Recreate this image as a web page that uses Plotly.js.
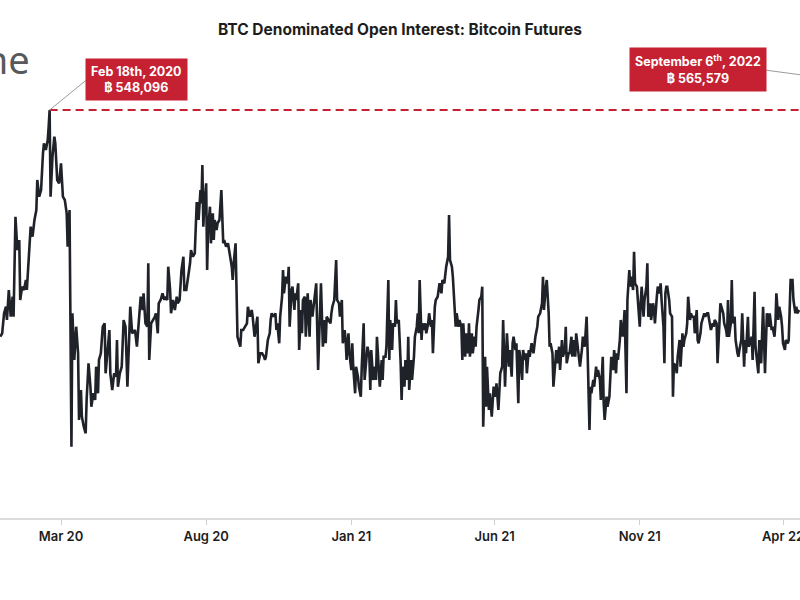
<!DOCTYPE html>
<html>
<head>
<meta charset="utf-8">
<script src="https://cdn.plot.ly/plotly-3.0.1.min.js"></script>
<style>
html,body{margin:0;padding:0;background:#ffffff;}
#chart{width:800px;height:600px;}
</style>
</head>
<body>
<div id="chart"></div>
<script>
// ---- DATA ----
// days counted from 2020-03-01
const baseDateUTC = Date.UTC(2020, 2, 1);
const dayOffsets = [
-64,-62,-60,-58,-57,-55,-53,-51,-50,-48,-46,-44,-43,-41,-39,-37,-36,-33,-32,-30,-28,-26,-25,-23,-21,-19,-18,-16,-14,-13,-12,-11,-9,-7,-6,-4,-2,0,1,2,4,6,7,9,11,12,14,16,18,19,21,22,24,26,27,29,31,32,34,36,37,39,40,42,44,46,47,49,51,52,54,56,58,59,60,62,64,66,68,70,72,73,75,
78,80,82,84,86,87,89,91,92,93,95,97,99,100,102,103,105,107,109,110,112,113,115,116,118,120,122,123,125,127,129,130,132,134,136,137,139,141,143,144,145,147,148,149,150,151,153,154,155,157,158,160,161,162,164,165,167,169,171,172,174,176,178,180,181,182,184,186,188,189,190,192,194,196,197,199,201,202,204,206,207,208,210,212,214,215,
216,218,220,221,222,224,226,227,228,230,231,233,234,235,237,239,240,241,243,244,246,247,248,250,251,253,254,255,257,258,260,262,263,265,267,269,271,272,274,276,278,279,280,282,284,285,286,288,290,291,293,294,296,297,299,300,301,303,304,306,307,308,310,311,313,314,316,317,319,320,321,323,325,326,327,329,331,332,333,335,336,338,339,340,342,343,345,346,347,349,350,352,353,354,356,
358,359,360,362,363,365,366,367,369,370,372,373,375,376,377,378,380,381,383,384,385,387,388,390,391,392,394,395,397,398,399,401,402,404,405,406,408,409,410,412,413,415,416,417,419,420,422,423,424,426,427,429,430,431,433,434,436,437,438,440,441,443,444,445,447,448,449,451,452,454,455,456,458,459,461,462,463,465,466,468,469,470,472,473,475,476,477,479,480,482,483,484,486,487,489,490,491,493,494,496,
498,500,502,503,505,507,508,509,511,512,514,515,516,518,519,521,522,523,525,526,528,529,531,532,533,535,536,538,539,540,542,543,545,546,547,549,550,552,553,554,555,557,558,559,561,562,564,565,566,568,569,571,572,573,575,576,578,579,580,582,583,585,586,587,589,590,592,593,594,596,597,599,600,601,603,604,605,607,608,610,611,612,614,615,617,618,619,621,622,624,625,626,628,629,631,632,633,635,636,
637,638,639,641,642,644,645,646,648,649,650,652,653,655,656,657,659,660,661,663,664,665,667,668,670,671,672,674,675,677,678,679,681,682,684,685,687,688,689,691,692,694,695,696,698,699,701,702,703,704,706,707,708,710,711,713,714,715,717,718,720,721,722,724,725,727,728,729,731,732,734,735,736,738,739,740,742,743,744,746,747,749,750,752,753,754,756,757,759,760,761,763,764,766,767,768,769,771,772,774,775,776,778
];
// open interest, thousand BTC
const openInterestKBTC = [
321.4,324.8,344.8,351.4,338.1,368.1,341.4,361.4,341.4,441.4,408.1,418.1,358.1,371.4,368.1,378.1,368.1,424.8,431.4,421.4,438.1,448.1,478.1,461.4,468.1,504.8,514.8,508.1,518.1,531.4,548.096,461.4,501.4,521.4,514.8,478.1,474.8,494.8,474.8,461.4,458.1,444.8,411.4,448.1,211.4,344.8,298.1,331.4,304.8,238.1,268.1,241.4,231.4,224.8,258.1,294.8,271.4,251.4,264.8,258.1,291.4,264.8,298.1,304.8,331.4,334.8,284.8,304.8,328.1,284.8,268.1,284.8,281.4,318.1,271.4,284.8,291.4,338.1,331.4,271.4,331.4,351.4,324.8,
328.1,311.4,338.1,361.4,348.1,364.8,334.8,331.4,394.8,298.1,334.8,338.1,341.4,344.8,324.8,354.8,358.1,364.8,358.1,361.4,358.1,391.4,368.1,344.8,358.1,348.1,361.4,354.8,358.1,388.1,401.4,368.1,368.1,381.4,394.8,408.1,401.4,404.8,454.8,454.8,438.1,468.1,454.8,493.1,431.4,451.4,474.8,388.1,428.1,451.4,414.8,444.8,418.1,438.1,428.1,434.8,438.1,468.1,414.8,418.1,411.4,414.8,401.4,391.4,378.1,394.8,414.8,321.4,314.8,311.4,328.1,328.1,331.4,334.8,351.4,341.4,348.1,341.4,321.4,338.1,341.4,294.8,304.8,304.8,301.4,298.1,
301.4,318.1,324.8,338.1,344.8,341.4,344.8,328.1,334.8,314.8,341.4,361.4,388.1,364.8,381.4,374.8,391.4,331.4,368.1,371.4,348.1,364.8,358.1,374.8,308.1,348.1,324.8,358.1,361.4,321.4,364.8,321.4,358.1,341.4,361.4,374.8,288.1,324.8,374.8,311.4,338.1,314.8,341.4,338.1,334.8,344.8,351.4,358.1,398.1,358.1,354.8,341.4,358.1,314.8,328.1,318.1,298.1,324.8,304.8,288.1,314.8,291.4,264.8,291.4,281.4,271.4,261.4,291.4,334.8,278.1,291.4,311.4,301.4,268.1,308.1,278.1,291.4,278.1,321.4,291.4,271.4,298.1,278.1,301.4,301.4,311.4,378.1,298.1,338.1,308.1,334.8,331.4,358.1,334.8,338.1,
294.8,258.1,291.4,271.4,298.1,278.1,321.4,268.1,298.1,278.1,301.4,321.4,331.4,344.8,324.8,378.1,318.1,334.8,328.1,334.8,324.8,334.8,344.8,331.4,338.1,304.8,351.4,358.1,361.4,368.1,374.8,364.8,378.1,374.8,388.1,391.4,401.4,443.1,398.1,391.4,381.4,344.8,331.4,344.8,331.4,338.1,331.4,298.1,334.8,301.4,324.8,304.8,334.8,301.4,324.8,304.8,321.4,311.4,331.4,348.1,358.1,361.4,371.4,231.4,301.4,251.4,291.4,248.1,264.8,241.4,261.4,271.4,261.4,274.8,248.1,278.1,284.8,291.4,338.1,271.4,308.1,324.8,291.4,308.1,281.4,314.8,321.4,308.1,314.8,254.8,308.1,301.4,278.1,308.1,298.1,304.8,284.8,308.1,301.4,314.8,
304.8,321.4,331.4,341.4,344.8,354.8,381.4,348.1,371.4,378.1,344.8,311.4,314.8,304.8,271.4,291.4,308.1,294.8,311.4,288.1,318.1,301.4,308.1,331.4,294.8,304.8,304.8,321.4,301.4,318.1,301.4,324.8,304.8,298.1,291.4,308.1,321.4,311.4,324.8,341.4,308.1,228.1,271.4,264.8,278.1,271.4,291.4,281.4,288.1,278.1,258.1,301.4,254.8,238.1,261.4,251.4,261.4,281.4,301.4,288.1,308.1,284.8,304.8,298.1,318.1,338.1,321.4,331.4,348.1,264.8,358.1,388.1,371.4,381.4,368.1,406.4,374.8,371.4,358.1,331.4,354.8,371.4,341.4,358.1,371.4,394.8,341.4,354.8,338.1,354.8,348.1,334.8,361.4,371.4,364.8,374.8,358.1,331.4,294.8,
364.8,371.4,371.4,358.1,344.8,341.4,261.4,294.8,291.4,284.8,301.4,318.1,291.4,324.8,311.4,318.1,324.8,334.8,361.4,338.1,344.8,341.4,341.4,324.8,348.1,318.1,314.8,324.8,334.8,341.4,344.8,341.4,344.8,344.8,334.8,328.1,334.8,331.4,338.1,334.8,294.8,331.4,354.8,351.4,344.8,334.8,328.1,321.4,358.1,321.4,334.8,378.1,334.8,341.4,318.1,304.8,301.4,308.1,318.1,344.8,291.4,318.1,304.8,341.4,311.4,318.1,321.4,298.1,366.4,311.4,291.4,284.8,318.1,294.8,324.8,351.4,284.8,314.8,344.8,331.4,344.8,328.1,331.4,321.4,334.8,364.8,338.1,351.4,341.4,331.4,314.8,308.1,318.1,314.8,318.1,348.1,378.1,378.1,358.1,344.8,351.4,344.8,348.1
];
const peakDate = '2020-02-18';
const peakValue = 548096;
const peakLabel = 'Feb 18th, 2020';
const latestDate = '2022-09-06';
const latestValue = 565579;
const latestLabel = 'September 6<sup>th</sup>, 2022';
const tickDates = ['2020-03-01','2020-08-01','2021-01-01','2021-06-01','2021-11-01','2022-04-01'];
const tickLabels = ['Mar 20','Aug 20','Jan 21','Jun 21','Nov 21','Apr 22'];
const chartTitle = 'BTC Denominated Open Interest: Bitcoin Futures';
const brandText = 'arcane';

// ---- helpers ----
function dayToDate(d) {
  const s = new Date(baseDateUTC + d * 86400000).toISOString();
  return s.slice(0, 10) + ' ' + s.slice(11, 19);
}
const xDates = dayOffsets.map(dayToDate);
const fmt = v => v.toLocaleString('en-US');

const RED = '#c62132';
const FONT = 'Inter, "Noto Sans", sans-serif';

const trace = {
  type: 'scatter',
  mode: 'lines',
  x: xDates,
  y: openInterestKBTC,
  line: {color: '#1f2228', width: 2.6},
  hoverinfo: 'skip'
};

const layout = {
  width: 800,
  height: 600,
  margin: {l: 0, r: 0, t: 50, b: 82},
  paper_bgcolor: '#ffffff',
  plot_bgcolor: '#ffffff',
  showlegend: false,
  title: {
    text: chartTitle,
    x: 0.5, xanchor: 'center',
    y: 0.95, yanchor: 'middle',
    font: {family: FONT, size: 15.5, color: '#1d1d1d', weight: 700}
  },
  xaxis: {
    type: 'date',
    range: [dayToDate(-64.3), dayToDate(778.9)],
    tickvals: tickDates,
    ticktext: tickLabels,
    ticklabeloverflow: 'allow',
    ticks: 'outside',
    ticklen: 5,
    tickwidth: 1,
    tickcolor: '#d0d0d0',
    showline: true,
    linecolor: '#dcdcdc',
    linewidth: 2,
    showgrid: false,
    zeroline: false,
    tickfont: {family: FONT, size: 13, color: '#1d1d1d', weight: 600},
    fixedrange: true
  },
  yaxis: {
    range: [140.1, 608.1],
    showticklabels: false,
    showgrid: false,
    zeroline: false,
    showline: false,
    ticks: '',
    fixedrange: true
  },
  shapes: [
    {
      type: 'line', xref: 'x', yref: 'y', layer: 'above',
      x0: peakDate, x1: latestDate,
      y0: peakValue / 1000, y1: peakValue / 1000,
      line: {color: RED, width: 2, dash: '8px,5px'}
    },
    {
      type: 'line', xref: 'x', yref: 'y',
      xsizemode: 'pixel', ysizemode: 'pixel',
      xanchor: peakDate, yanchor: peakValue / 1000,
      x0: 0, y0: 0, x1: 38, y1: 31,
      line: {color: '#9a9a9a', width: 1}
    },
    {
      type: 'line', xref: 'x', yref: 'y',
      xsizemode: 'pixel', ysizemode: 'pixel',
      xanchor: latestDate, yanchor: latestValue / 1000,
      x0: 0, y0: 0, x1: -168, y1: 22.5,
      line: {color: '#9a9a9a', width: 1}
    }
  ],
  annotations: [
    {
      xref: 'paper', yref: 'paper',
      x: 136 / 800, y: (518 - 79) / 468,
      xanchor: 'center', yanchor: 'middle',
      showarrow: false,
      text: peakLabel + '<br>฿ ' + fmt(peakValue),
      bgcolor: RED, borderpad: 5,
      font: {family: FONT, size: 12.5, color: '#ffffff', weight: 700}
    },
    {
      xref: 'paper', yref: 'paper',
      x: 697.5 / 800, y: (518 - 70) / 468,
      xanchor: 'center', yanchor: 'middle',
      showarrow: false,
      text: latestLabel + '<br>฿ ' + fmt(latestValue),
      bgcolor: RED, borderpad: 5,
      font: {family: FONT, size: 12.5, color: '#ffffff', weight: 700}
    },
    {
      xref: 'paper', yref: 'paper',
      x: 32 / 800, y: (518 - 59) / 468,
      xanchor: 'right', yanchor: 'middle',
      showarrow: false,
      text: brandText,
      font: {family: '"Noto Sans", sans-serif', size: 38, color: '#58595b', weight: 400}
    }
  ]
};

Plotly.newPlot('chart', [trace], layout, {displayModeBar: false, staticPlot: true});
</script>
</body>
</html>
